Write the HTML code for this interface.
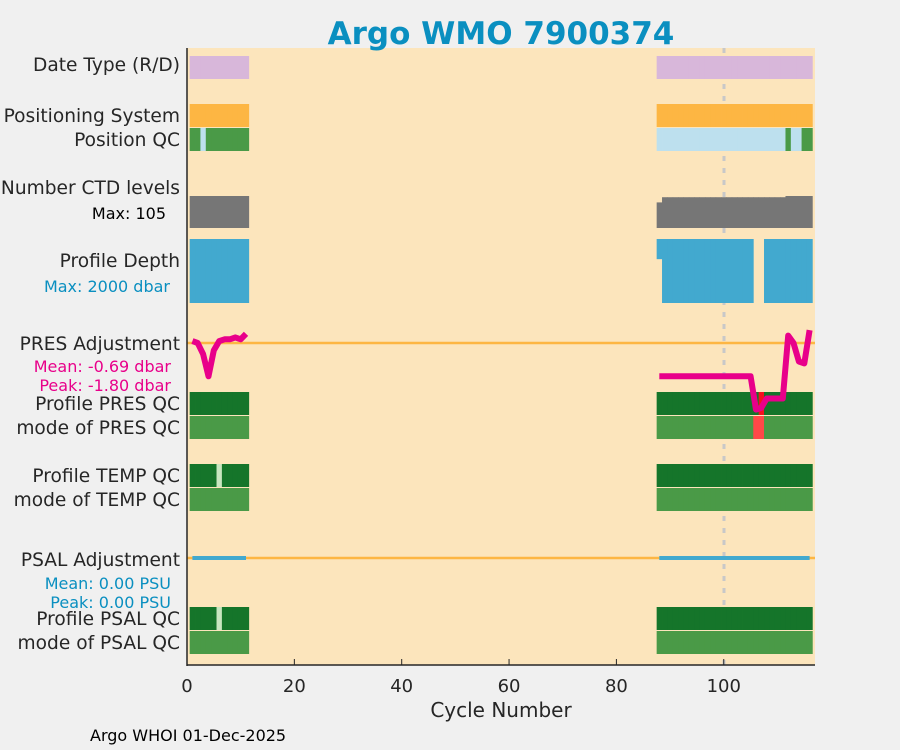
<!DOCTYPE html>
<html><head><meta charset="utf-8"><style>
body{margin:0;background:#f0f0f0;}
svg{display:block;font-family:"DejaVu Sans","Liberation Sans",sans-serif;}
</style></head><body>
<svg id="c" width="900" height="750">
<rect width="900" height="750" fill="#f0f0f0"/>
<rect x="187" y="48" width="628" height="617" fill="#fce5bc"/>
<text x="501" y="44" font-size="31" font-weight="bold" fill="#0a8fc0" text-anchor="middle">Argo WMO 7900374</text>
<line x1="724" y1="48" x2="724" y2="665" stroke="#c8c8c8" stroke-width="3" stroke-dasharray="5,7"/>
<g id="marks"></g>
<line x1="187" y1="48" x2="187" y2="666" stroke="#262626" stroke-width="1.5"/>
<line x1="187" y1="665" x2="815" y2="665" stroke="#262626" stroke-width="1.5"/>
<g id="xt" font-size="18" fill="#262626" text-anchor="middle"></g>
<text x="501" y="717" font-size="20" fill="#262626" text-anchor="middle">Cycle Number</text>
<g font-size="18.6" fill="#262626" text-anchor="end">
<text x="180" y="71">Date Type (R/D)</text>
<text x="180" y="122">Positioning System</text>
<text x="180" y="146">Position QC</text>
<text x="180" y="194">Number CTD levels</text>
<text x="180" y="267">Profile Depth</text>
<text x="180" y="350">PRES Adjustment</text>
<text x="180" y="410">Profile PRES QC</text>
<text x="180" y="434">mode of PRES QC</text>
<text x="180" y="482">Profile TEMP QC</text>
<text x="180" y="506">mode of TEMP QC</text>
<text x="180" y="566">PSAL Adjustment</text>
<text x="180" y="625">Profile PSAL QC</text>
<text x="180" y="649">mode of PSAL QC</text>
</g>
<g font-size="16" text-anchor="end">
<text x="166" y="219" fill="#000">Max: 105</text>
<text x="170" y="292" fill="#0a8fc0">Max: 2000 dbar</text>
<text x="171" y="372" fill="#e8008a">Mean: -0.69 dbar</text>
<text x="171" y="391" fill="#e8008a">Peak: -1.80 dbar</text>
<text x="171" y="589" fill="#0a8fc0">Mean: 0.00 PSU</text>
<text x="171" y="608" fill="#0a8fc0">Peak: 0.00 PSU</text>
</g>
<text x="90" y="741" font-size="16" fill="#000">Argo WHOI 01-Dec-2025</text>
</svg>
<script>
const cycles=[1,2,3,4,5,6,7,8,9,10,11,88,89,90,91,92,93,94,95,96,97,98,99,100,101,102,103,104,105,106,107,108,109,110,111,112,113,114,115,116];
const posQC=[1,1,2,1,1,1,1,1,1,1,1,2,2,2,2,2,2,2,2,2,2,2,2,2,2,2,2,2,2,2,2,2,2,2,2,1,2,2,1,1];
const ctdLevels=[105,105,105,105,105,105,105,105,105,105,105,84,101,101,101,101,101,101,101,101,101,101,101,101,101,101,101,101,101,101,101,101,101,101,101,105,105,105,105,105];
const depth=[2000,2000,2000,2000,2000,2000,2000,2000,2000,2000,2000,630,2000,2000,2000,2000,2000,2000,2000,2000,2000,2000,2000,2000,2000,2000,2000,2000,2000,0,0,2000,2000,2000,2000,2000,2000,2000,2000,2000];
const presAdj=[0.05,0.0,-0.3,-0.9,-0.2,0.05,0.1,0.1,0.15,0.1,0.25,-0.9,-0.9,-0.9,-0.9,-0.9,-0.9,-0.9,-0.9,-0.9,-0.9,-0.9,-0.9,-0.9,-0.9,-0.9,-0.9,-0.9,-0.9,-1.8,-1.75,-1.5,-1.5,-1.5,-1.5,0.2,0.0,-0.5,-0.55,0.35];
const presQC=[1,1,1,1,1,1,1,1,1,1,1,1,1,1,1,1,1,1,1,1,1,1,1,1,1,1,1,1,1,1,4,1,1,1,1,1,1,1,1,1];
const presMode=[1,1,1,1,1,1,1,1,1,1,1,1,1,1,1,1,1,1,1,1,1,1,1,1,1,1,1,1,1,4,4,1,1,1,1,1,1,1,1,1];
const tempQC=[1,1,1,1,1,2,1,1,1,1,1,1,1,1,1,1,1,1,1,1,1,1,1,1,1,1,1,1,1,1,1,1,1,1,1,1,1,1,1,1];
const psalQC=[1,1,1,1,1,2,1,1,1,1,1,1,1,1,1,1,1,1,1,1,1,1,1,1,1,1,1,1,1,1,1,1,1,1,1,1,1,1,1,1];
const psalAdj=[0,0,0,0,0,0,0,0,0,0,0,0,0,0,0,0,0,0,0,0,0,0,0,0,0,0,0,0,0,0,0,0,0,0,0,0,0,0,0,0];
const xTicks=[0,20,40,60,80,100];
const xMax=117;
const NS='http://www.w3.org/2000/svg';
const X=c=>187+c*(628/xMax);
const g=document.getElementById('marks');
function rect(x,y,w,h,f,name){const r=document.createElementNS(NS,'rect');r.setAttribute('x',x);r.setAttribute('y',y);r.setAttribute('width',w);r.setAttribute('height',h);r.setAttribute('fill',f);


g.appendChild(r);}
const w=628/xMax+0.4;
function row(vals,y,h,colors,name){cycles.forEach((c,i)=>{const col=colors[vals[i]];if(col)rect(X(c-0.5),y,w,h,col,name+'-'+c);});}
row(cycles.map(()=>1),56,23,{1:'#d8b7da'},'date-type');
row(cycles.map(()=>1),104,23,{1:'#fdb643'},'positioning');
row(posQC,128,23,{1:'#4a9a47',2:'#bde0ee'},'position-qc');
cycles.forEach((c,i)=>{const h=32*ctdLevels[i]/105;rect(X(c-0.5),228-h,w,h,'#767676','ctd-levels-'+c);});
cycles.forEach((c,i)=>{if(!depth[i])return;const h=64*depth[i]/2000;rect(X(c-0.5),239,w,h,'#42a9cf','profile-depth-'+c);});
row(presQC,392,23,{1:'#15752a',4:'#f5101e'},'pres-qc');
row(presMode,416,23,{1:'#4a9a47',4:'#ff4848'},'pres-mode');
row(tempQC,464,23,{1:'#15752a',2:'#c8e6c0'},'temp-qc');
row(tempQC.map(()=>1),488,23,{1:'#4a9a47'},'temp-mode');
row(psalQC,607,23,{1:'#15752a',2:'#c8e6c0'},'psal-qc');
row(psalQC.map(()=>1),631,23,{1:'#4a9a47'},'psal-mode');
function hline(y,name){const l=document.createElementNS(NS,'line');l.setAttribute('x1',187);l.setAttribute('x2',815);l.setAttribute('y1',y);l.setAttribute('y2',y);l.setAttribute('stroke','#fdb643');l.setAttribute('stroke-width',2.5);


g.appendChild(l);}
hline(343,'pres-zero-line');hline(558,'psal-zero-line');
function series(vals,y0,scale,col,sw,from,to,name){let pts=[];for(let i=from;i<to;i++)pts.push(X(cycles[i]).toFixed(1)+','+(y0-vals[i]*scale).toFixed(1));
const p=document.createElementNS(NS,'polyline');p.setAttribute('points',pts.join(' '));p.setAttribute('fill','none');p.setAttribute('stroke',col);p.setAttribute('stroke-width',sw);p.setAttribute('stroke-linejoin','round');


g.appendChild(p);}
series(presAdj,343,37,'#e8008a',6,0,11,'pres-adjustment-line-a');
series(presAdj,343,37,'#e8008a',6,11,40,'pres-adjustment-line-b');
series(psalAdj,558,37,'#42a9cf',4,0,11,'psal-adjustment-line-a');
series(psalAdj,558,37,'#42a9cf',4,11,40,'psal-adjustment-line-b');
const xt=document.getElementById('xt');
xTicks.forEach(t=>{const l=document.createElementNS(NS,'line');l.setAttribute('x1',X(t));l.setAttribute('x2',X(t));l.setAttribute('y1',665);l.setAttribute('y2',659);l.setAttribute('stroke','#262626');


xt.appendChild(l);
const s=document.createElementNS(NS,'text');s.setAttribute('x',X(t));s.setAttribute('y',692);s.textContent=t;


xt.appendChild(s);});
</script>
</body></html>
